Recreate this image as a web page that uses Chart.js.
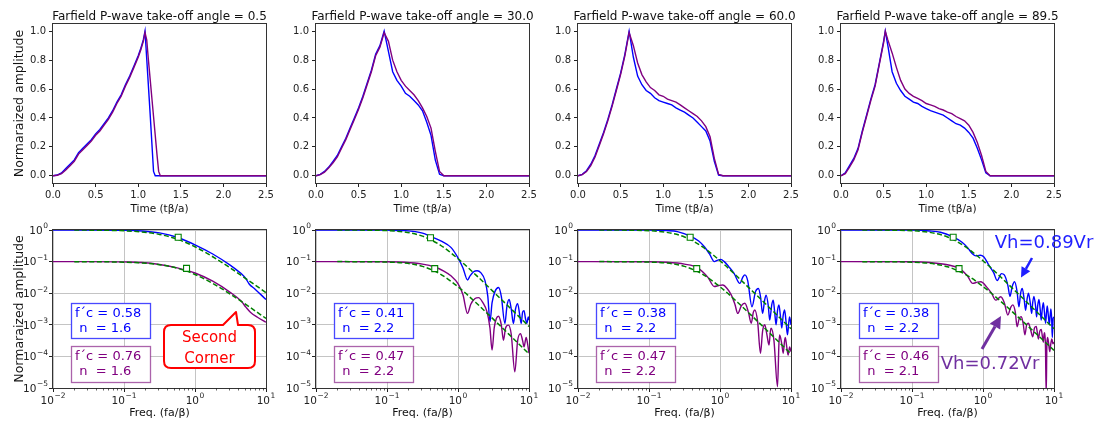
<!DOCTYPE html>
<html>
<head>
<meta charset="utf-8">
<script src="https://cdn.jsdelivr.net/npm/chart.js@4.4.1/dist/chart.umd.min.js"></script>
<style>
  html, body { margin: 0; padding: 0; background: #fff; }
  #fig { position: relative; width: 1102px; height: 423px; overflow: hidden; background: #fff; }
  #fig canvas { position: absolute; }
</style>
</head>
<body>
<div id="fig"></div>
<script>
// ==================== DATA ====================
const angles = ["0.5", "30.0", "60.0", "89.5"];
const timeTicks = [0, 0.5, 1.0, 1.5, 2.0, 2.5];
const ampTicks = [0, 0.2, 0.4, 0.6, 0.8, 1.0];
const freqDecades = [-2, -1, 0, 1];
const specDecades = [-5, -4, -3, -2, -1, 0];

// time series (t in tβ/a, normalized amplitude)
const time1 = [0,0.05,0.1,0.15,0.2,0.25,0.3,0.35,0.4,0.45,0.5,0.55,0.6,0.65,0.7,0.75,0.8,0.85,0.9,0.95,1.0,1.03,1.06,1.08,1.1,1.12,1.14,1.16,1.18,1.2,1.22,1.24,1.26,1.3,2.5];
const blue1 = [0,0.005,0.02,0.05,0.08,0.11,0.16,0.19,0.22,0.25,0.29,0.32,0.36,0.40,0.45,0.51,0.56,0.63,0.69,0.76,0.83,0.88,0.94,1.0,0.81,0.62,0.43,0.23,0.03,0,0,0,0,0,0];
const purple1 = [0,0.004,0.015,0.04,0.07,0.10,0.15,0.18,0.21,0.24,0.28,0.31,0.35,0.39,0.44,0.50,0.55,0.62,0.68,0.75,0.82,0.87,0.93,0.99,0.94,0.8,0.67,0.54,0.41,0.28,0.15,0.03,0,0,0];

const time2 = [0,0.05,0.1,0.15,0.2,0.25,0.3,0.35,0.4,0.45,0.5,0.55,0.6,0.65,0.7,0.75,0.8,0.85,0.9,0.95,1.0,1.05,1.1,1.15,1.2,1.25,1.3,1.35,1.4,1.45,1.5,2.5];
const blue2 = [0,0.01,0.03,0.06,0.1,0.14,0.2,0.26,0.33,0.4,0.47,0.55,0.64,0.73,0.84,0.9,1.0,0.86,0.72,0.66,0.62,0.57,0.55,0.52,0.49,0.45,0.37,0.28,0.11,0.01,0,0];
const purple2 = [0,0.008,0.025,0.055,0.09,0.13,0.19,0.25,0.32,0.39,0.46,0.54,0.63,0.72,0.83,0.89,0.99,0.93,0.8,0.72,0.66,0.62,0.59,0.56,0.52,0.47,0.41,0.33,0.17,0.03,0,0];

const time3 = [0,0.05,0.1,0.15,0.2,0.25,0.3,0.35,0.4,0.45,0.5,0.55,0.6,0.65,0.7,0.75,0.8,0.85,0.9,0.95,1.0,1.05,1.1,1.15,1.2,1.25,1.3,1.35,1.4,1.45,1.5,1.55,1.6,1.65,1.7,2.5];
const blue3 = [0,0.01,0.035,0.08,0.14,0.22,0.3,0.39,0.49,0.6,0.71,0.84,1.0,0.82,0.69,0.63,0.59,0.57,0.54,0.52,0.51,0.5,0.49,0.47,0.455,0.44,0.42,0.4,0.37,0.34,0.31,0.24,0.1,0.005,0,0];
const purple3 = [0,0.008,0.03,0.07,0.13,0.21,0.29,0.38,0.48,0.59,0.7,0.83,0.99,0.9,0.78,0.7,0.65,0.61,0.59,0.56,0.55,0.53,0.52,0.51,0.49,0.47,0.45,0.43,0.41,0.38,0.34,0.27,0.12,0.01,0,0];

const time4 = [0,0.05,0.1,0.15,0.2,0.25,0.3,0.35,0.4,0.45,0.5,0.52,0.55,0.6,0.65,0.7,0.75,0.8,0.85,0.9,0.95,1.0,1.05,1.1,1.15,1.2,1.25,1.3,1.35,1.4,1.45,1.5,1.55,1.6,1.65,1.7,1.75,2.5];
const blue4 = [0,0.02,0.07,0.12,0.19,0.31,0.42,0.53,0.63,0.78,0.93,1.0,0.9,0.72,0.64,0.59,0.55,0.53,0.51,0.5,0.48,0.465,0.45,0.44,0.43,0.42,0.4,0.38,0.36,0.35,0.33,0.3,0.26,0.19,0.11,0.02,0,0];
const purple4 = [0,0.015,0.06,0.11,0.18,0.3,0.41,0.52,0.62,0.77,0.92,1.0,0.94,0.85,0.75,0.66,0.6,0.57,0.55,0.535,0.52,0.5,0.49,0.48,0.465,0.455,0.44,0.43,0.41,0.395,0.38,0.35,0.3,0.23,0.14,0.03,0,0];

// spectra, stored as log10(freq) and log10(amplitude)
const blueLogF1 = [-2,-1.5,-1,-0.75,-0.5,-0.25,0,0.25,0.5,0.65,0.72,0.76,0.85,1];
const blueLogA1 = [0,-0.001,-0.01,-0.03,-0.09,-0.23,-0.47,-0.76,-1.12,-1.38,-1.55,-1.7,-1.88,-2.2];
const purpleLogF1 = [-2,-1.5,-1,-0.75,-0.5,-0.25,0,0.25,0.5,0.65,0.72,0.78,0.88,1];
const purpleLogA1 = [-1,-1.0,-1.01,-1.03,-1.09,-1.2,-1.36,-1.62,-1.98,-2.25,-2.45,-2.6,-2.76,-2.92];

const blueLogF2 = [-2,-1.5,-1,-0.75,-0.5,-0.39,-0.22,-0.1,0,0.07,0.134,0.17,0.22,0.27,0.32,0.38,0.42,0.45,0.48,0.52,0.57,0.61,0.66,0.69,0.72,0.75,0.78,0.81,0.84,0.87,0.89,0.91,0.93,0.95,0.97,0.99,1];
const blueLogA2 = [0,0,-0.005,-0.02,-0.1,-0.2,-0.37,-0.55,-0.88,-1.2,-1.58,-1.45,-1.32,-1.29,-1.35,-1.6,-2.1,-2.9,-2.3,-1.95,-1.82,-2.1,-2.96,-2.4,-2.2,-2.5,-2.96,-2.5,-2.33,-2.7,-2.96,-2.6,-2.55,-2.8,-2.95,-2.75,-2.85];
const purpleLogF2 = [-2,-1,-0.75,-0.5,-0.33,-0.2,-0.1,0,0.07,0.134,0.18,0.24,0.29,0.35,0.41,0.45,0.48,0.51,0.54,0.57,0.61,0.64,0.67,0.71,0.75,0.8,0.84,0.88,0.91,0.93,0.96,0.98,1];
const purpleLogA2 = [-1,-1.005,-1.02,-1.08,-1.17,-1.3,-1.45,-1.7,-2.05,-2.64,-2.35,-2.17,-2.14,-2.3,-2.6,-3.1,-3.8,-3.1,-2.8,-2.73,-3.0,-3.49,-3.1,-3.01,-3.3,-4.49,-3.5,-3.28,-3.5,-3.7,-3.4,-3.6,-3.9];

const blueLogF3 = [-2,-1,-0.75,-0.6,-0.41,-0.3,-0.22,-0.15,-0.08,-0.04,0.01,0.06,0.12,0.2,0.28,0.32,0.35,0.39,0.45,0.5,0.54,0.57,0.6,0.63,0.65,0.68,0.7,0.73,0.75,0.77,0.79,0.81,0.83,0.85,0.87,0.89,0.91,0.93,0.95,0.97,0.98,1];
const blueLogA3 = [0,-0.005,-0.02,-0.05,-0.2,-0.35,-0.53,-0.75,-1.0,-0.96,-0.93,-1.0,-1.15,-1.38,-1.69,-1.5,-1.42,-1.6,-2.43,-1.95,-1.85,-2.1,-2.64,-2.2,-2.06,-2.4,-2.85,-2.35,-2.22,-2.6,-3.0,-2.55,-2.37,-2.7,-3.1,-2.7,-2.53,-2.9,-3.32,-2.9,-2.75,-3.0];
const purpleLogF3 = [-2,-1,-0.75,-0.5,-0.32,-0.17,-0.08,-0.02,0.04,0.1,0.16,0.21,0.25,0.3,0.35,0.4,0.44,0.47,0.49,0.53,0.57,0.6,0.63,0.66,0.69,0.71,0.72,0.76,0.81,0.83,0.84,0.87,0.89,0.91,0.92,0.94,0.96,0.98,1];
const purpleLogA3 = [-1,-1.005,-1.02,-1.08,-1.19,-1.5,-1.79,-1.76,-1.74,-1.85,-2.06,-2.35,-2.64,-2.4,-2.32,-2.6,-2.95,-2.6,-2.53,-2.9,-3.9,-3.2,-3.0,-3.3,-3.64,-3.2,-3.11,-3.5,-4.96,-3.6,-3.32,-3.6,-3.9,-3.5,-3.4,-3.7,-3.96,-3.7,-3.85];

const blueLogF4 = [-2,-1,-0.75,-0.6,-0.43,-0.3,-0.22,-0.15,-0.1,-0.04,0.01,0.08,0.15,0.2,0.26,0.3,0.35,0.38,0.41,0.445,0.48,0.506,0.53,0.553,0.58,0.6,0.62,0.64,0.665,0.685,0.7,0.717,0.74,0.755,0.77,0.788,0.805,0.82,0.835,0.85,0.865,0.882,0.895,0.905,0.92,0.934,0.946,0.957,0.967,0.976,0.988,1];
const blueLogA4 = [0,-0.005,-0.03,-0.07,-0.21,-0.38,-0.55,-0.75,-0.82,-0.8,-0.85,-1.1,-1.35,-1.6,-1.38,-1.42,-1.75,-2.1,-1.8,-1.64,-1.95,-2.43,-2.0,-1.85,-2.2,-2.54,-2.2,-2.0,-2.3,-2.64,-2.3,-2.1,-2.4,-2.75,-2.4,-2.2,-2.5,-2.85,-2.5,-2.3,-2.6,-2.95,-2.6,-2.4,-2.7,-3.0,-2.7,-2.5,-2.8,-3.4,-2.8,-2.75];
const purpleLogF4 = [-2,-1,-0.75,-0.5,-0.33,-0.22,-0.145,-0.08,-0.03,0.05,0.12,0.18,0.25,0.3,0.35,0.39,0.42,0.455,0.48,0.51,0.54,0.565,0.59,0.615,0.64,0.67,0.7,0.725,0.75,0.765,0.78,0.8,0.82,0.835,0.85,0.86,0.87,0.88,0.89,0.9,0.91,0.925,0.94,0.955,0.97,0.985,1];
const purpleLogA4 = [-1,-1.005,-1.03,-1.1,-1.22,-1.45,-1.69,-1.65,-1.64,-1.8,-2.0,-2.22,-2.11,-2.3,-2.69,-2.45,-2.37,-2.6,-3.06,-2.8,-2.74,-2.95,-3.32,-3.0,-2.95,-3.15,-3.38,-3.1,-3.05,-3.25,-3.45,-3.2,-3.15,-3.35,-3.55,-3.3,-3.25,-3.7,-5.2,-3.6,-3.4,-3.6,-3.85,-3.6,-3.45,-3.6,-3.55];

// fitted model spectra (green dashed)
const fitLogF = [-1.7,-1.5,-1.25,-1,-0.75,-0.5,-0.25,0,0.25,0.5,0.75,1];
const fitUpper1 = [-0.002,-0.004,-0.010,-0.025,-0.061,-0.140,-0.291,-0.530,-0.846,-1.207,-1.590,-1.983];
const fitLower1 = [-1.001,-1.003,-1.007,-1.017,-1.041,-1.096,-1.209,-1.407,-1.690,-2.033,-2.408,-2.798];
const fitUpper2 = [-0.001,-0.002,-0.006,-0.019,-0.064,-0.195,-0.478,-0.909,-1.419,-1.957,-2.503,-3.052];
const fitLower2 = [-1.000,-1.001,-1.004,-1.014,-1.048,-1.152,-1.395,-1.797,-2.294,-2.828,-3.373,-3.922];
const fitUpper3 = [-0.001,-0.002,-0.006,-0.022,-0.075,-0.222,-0.527,-0.973,-1.489,-2.029,-2.576,-3.125];
const fitLower3 = [-1.000,-1.001,-1.004,-1.014,-1.048,-1.152,-1.395,-1.797,-2.294,-2.828,-3.373,-3.922];
const fitUpper4 = [-0.001,-0.002,-0.006,-0.022,-0.075,-0.222,-0.527,-0.973,-1.489,-2.029,-2.576,-3.125];
const fitLower4 = [-1.001,-1.002,-1.005,-1.017,-1.055,-1.163,-1.402,-1.786,-2.258,-2.766,-3.285,-3.809];

// corner frequencies (squares) and labels
const fcUpper = [0.58, 0.41, 0.38, 0.38];
const fcLower = [0.76, 0.47, 0.47, 0.46];
const nUpper = [1.6, 2.2, 2.2, 2.2];
const nLower = [1.6, 2.2, 2.2, 2.1];
const squareAmpUpper = [0.59, 0.57, 0.59, 0.59];
const squareAmpLower = [0.061, 0.060, 0.060, 0.060];

const times = [time1, time2, time3, time4];
const blueWaves = [blue1, blue2, blue3, blue4];
const purpleWaves = [purple1, purple2, purple3, purple4];
const blueSpec = [[blueLogF1, blueLogA1], [blueLogF2, blueLogA2], [blueLogF3, blueLogA3], [blueLogF4, blueLogA4]];
const purpleSpec = [[purpleLogF1, purpleLogA1], [purpleLogF2, purpleLogA2], [purpleLogF3, purpleLogA3], [purpleLogF4, purpleLogA4]];
const fitUpper = [fitUpper1, fitUpper2, fitUpper3, fitUpper4];
const fitLower = [fitLower1, fitLower2, fitLower3, fitLower4];

// ==================== STYLE ====================
const BLUE = "#0000ff", PURPLE = "#800080", GREEN = "#008000", INK = "#222";
const FONT = "'DejaVu Sans', sans-serif";
Chart.defaults.font.family = FONT;
Chart.defaults.color = INK;

const fig = document.getElementById("fig");
const plotLefts = [53, 316, 578, 841];
const PLOT_W = 213, AXIS_W = 53;

// ==================== UTILS ====================
const isDecade = (v) => Math.abs(Math.log10(v) - Math.round(Math.log10(v))) < 1e-6;

const addCanvas = (x, y, w, h) => {
  const c = document.createElement("canvas");
  c.width = w; c.height = h;
  c.style.cssText = `left:${x}px;top:${y}px;width:${w}px;height:${h}px`;
  fig.appendChild(c);
  return c;
};

const framePlugin = {
  id: "frame",
  afterDatasetsDraw(chart) {
    const { ctx, chartArea: a } = chart;
    ctx.save();
    ctx.strokeStyle = "#333";
    ctx.lineWidth = 1;
    ctx.strokeRect(a.left - 0.5, a.top - 0.5, a.right - a.left + 1, a.bottom - a.top + 1);
    ctx.restore();
  }
};

const titlePlugin = (text) => ({
  id: "panelTitle",
  afterDraw(chart) {
    const { ctx, chartArea: a } = chart;
    ctx.save();
    ctx.font = `12px ${FONT}`;
    ctx.fillStyle = "#111";
    ctx.textAlign = "center";
    ctx.textBaseline = "alphabetic";
    ctx.fillText(text, (a.left + a.right) / 2, a.top - 4);
    ctx.restore();
  }
});

// "10" + raised exponent, drawn as text at a given anchor
const drawPow10 = (ctx, exp, x, y, align) => {
  const base = "10", sup = exp < 0 ? "\u2212" + Math.abs(exp) : String(exp);
  ctx.font = `10.5px ${FONT}`;
  const wb = ctx.measureText(base).width;
  ctx.font = `7.5px ${FONT}`;
  const ws = ctx.measureText(sup).width;
  const total = wb + ws + 0.5;
  const x0 = align === "right" ? x - total : x - total / 2;
  ctx.textAlign = "left";
  ctx.textBaseline = "middle";
  ctx.font = `10.5px ${FONT}`;
  ctx.fillText(base, x0, y + 1);
  ctx.font = `7.5px ${FONT}`;
  ctx.fillText(sup, x0 + wb + 0.5, y - 3.5);
};

// log-axis labels and minor ticks (like matplotlib)
const logAxisPlugin = {
  id: "logAxis",
  afterDraw(chart) {
    const { ctx, chartArea: a, scales } = chart;
    ctx.save();
    ctx.strokeStyle = INK;
    ctx.lineWidth = 0.7;
    for (let d = -2; d < 1; d++) {
      for (let k = 2; k <= 9; k++) {
        const x = Math.round(scales.x.getPixelForValue(k * Math.pow(10, d))) + 0.5;
        ctx.beginPath(); ctx.moveTo(x, a.bottom); ctx.lineTo(x, a.bottom + 2.5); ctx.stroke();
      }
    }
    ctx.fillStyle = INK;
    freqDecades.forEach(e => drawPow10(ctx, e, scales.x.getPixelForValue(Math.pow(10, e)), a.bottom + 12, "center"));
    specDecades.forEach(e => drawPow10(ctx, e, a.left - 5, scales.y.getPixelForValue(Math.pow(10, e)), "right"));
    ctx.restore();
  }
};

const drawTextBox = (ctx, x, y, w, h, edge, color, line1, line2) => {
  ctx.fillStyle = "#fff";
  ctx.fillRect(x, y, w, h);
  ctx.strokeStyle = edge;
  ctx.lineWidth = 1.3;
  ctx.strokeRect(x + 0.5, y + 0.5, w, h);
  ctx.fillStyle = color;
  ctx.font = `13px ${FONT}`;
  ctx.textAlign = "left";
  ctx.textBaseline = "alphabetic";
  ctx.fillText(line1, x + 4, y + 14);
  ctx.fillText(line2, x + 4, y + 29);
};

const drawArrow = (ctx, x0, y0, x1, y1, color, width, headLen, headHalf) => {
  const ang = Math.atan2(y1 - y0, x1 - x0);
  const bx = x1 - headLen * Math.cos(ang), by = y1 - headLen * Math.sin(ang);
  ctx.strokeStyle = color; ctx.fillStyle = color; ctx.lineWidth = width;
  ctx.beginPath(); ctx.moveTo(x0, y0); ctx.lineTo(bx, by); ctx.stroke();
  ctx.beginPath();
  ctx.moveTo(x1, y1);
  ctx.lineTo(bx + headHalf * Math.sin(ang), by - headHalf * Math.cos(ang));
  ctx.lineTo(bx - headHalf * Math.sin(ang), by + headHalf * Math.cos(ang));
  ctx.closePath(); ctx.fill();
};

const annotationPlugin = (i) => ({
  id: "notes",
  afterDraw(chart) {
    const { ctx, chartArea: a } = chart;
    const L = a.left, T = a.top;
    ctx.save();
    drawTextBox(ctx, L + 18, T + 73, 79, 35, "rgba(40,40,255,0.85)", BLUE,
      `f\u00B4c = ${fcUpper[i].toFixed(2)}`, ` n  = ${nUpper[i].toFixed(1)}`);
    drawTextBox(ctx, L + 18, T + 116, 79, 36, "rgba(150,60,150,0.8)", PURPLE,
      `f\u00B4c = ${fcLower[i].toFixed(2)}`, ` n  = ${nLower[i].toFixed(1)}`);

    if (i === 0) {
      // "Second Corner" callout
      const x0 = L + 111, x1 = L + 202, y0 = T + 95, y1 = T + 138, r = 7;
      ctx.beginPath();
      ctx.moveTo(x0 + r, y0);
      ctx.lineTo(L + 170, y0);
      ctx.lineTo(L + 183, T + 82);
      ctx.lineTo(L + 185, y0);
      ctx.lineTo(x1 - r, y0);
      ctx.quadraticCurveTo(x1, y0, x1, y0 + r);
      ctx.lineTo(x1, y1 - r);
      ctx.quadraticCurveTo(x1, y1, x1 - r, y1);
      ctx.lineTo(x0 + r, y1);
      ctx.quadraticCurveTo(x0, y1, x0, y1 - r);
      ctx.lineTo(x0, y0 + r);
      ctx.quadraticCurveTo(x0, y0, x0 + r, y0);
      ctx.closePath();
      ctx.fillStyle = "#fff"; ctx.fill();
      ctx.strokeStyle = "#ff0000"; ctx.lineWidth = 2; ctx.lineJoin = "round"; ctx.stroke();
      ctx.fillStyle = "#ff0000";
      ctx.font = `15px ${FONT}`;
      ctx.textAlign = "center"; ctx.textBaseline = "middle";
      ctx.fillText("Second", L + 156.5, T + 108);
      ctx.fillText("Corner", L + 156.5, T + 129);
    }
    if (i === 3) {
      ctx.font = `18px ${FONT}`;
      ctx.textAlign = "center"; ctx.textBaseline = "middle";
      ctx.fillStyle = "#1f1fff";
      ctx.fillText("Vh=0.89Vr", L + 203, T + 13);
      drawArrow(ctx, L + 191, T + 28, L + 180, T + 47.5, "#1f1fff", 2.5, 10, 5);
      ctx.fillStyle = "#7030a0";
      ctx.fillText("Vh=0.72Vr", L + 149, T + 134);
      drawArrow(ctx, L + 141, T + 119, L + 160, T + 86, "#7030a0", 3, 12, 6);
    }
    ctx.restore();
  }
});

const commonOpts = (padR, padTop) => ({
  responsive: false,
  animation: false,
  devicePixelRatio: 1,
  events: [],
  layout: { padding: { top: padTop, right: padR, left: 0, bottom: 0 } },
  plugins: { legend: { display: false }, tooltip: { enabled: false } }
});

const yTitle = (i) => ({
  display: i === 0, text: "Normaraized amplitude", color: "#111",
  font: { size: 12.5 }, padding: { top: 12, bottom: 0 }
});

// ==================== WAVEFORM PANELS ====================
function waveChart(i) {
  const padR = i === 3 ? 1102 - (plotLefts[i] + PLOT_W) : 10;
  const c = addCanvas(plotLefts[i] - AXIS_W, 0, AXIS_W + PLOT_W + padR, 220);
  const pts = (vals) => times[i].map((t, k) => ({ x: t, y: vals[k] }));
  const opts = commonOpts(padR, 24);
  opts.scales = {
    x: {
      type: "linear", min: 0, max: 2.5,
      afterBuildTicks: (s) => { s.ticks = timeTicks.map(v => ({ value: v })); },
      afterFit: (s) => { s.height = 37; },
      ticks: { callback: (v) => Number(v).toFixed(1), font: { size: 10 }, maxRotation: 0, autoSkip: false, padding: 2 },
      grid: { drawOnChartArea: false, tickLength: 4, tickColor: INK },
      border: { display: false },
      title: { display: true, text: "Time (t\u03B2/a)", color: "#111", font: { size: 10.5 }, padding: { top: 0, bottom: 4 } }
    },
    y: {
      type: "linear", min: -0.05, max: 1.05,
      afterBuildTicks: (s) => { s.ticks = ampTicks.map(v => ({ value: v })); },
      afterFit: (s) => { s.width = AXIS_W; },
      ticks: { callback: (v) => Number(v).toFixed(1), font: { size: 10 }, padding: 3 },
      grid: { drawOnChartArea: false, tickLength: 4, tickColor: INK },
      border: { display: false },
      title: yTitle(i)
    }
  };
  new Chart(c, {
    type: "line",
    data: {
      datasets: [
        { data: pts(purpleWaves[i]), borderColor: PURPLE, borderWidth: 1.4, pointRadius: 0, tension: 0, order: 1 },
        { data: pts(blueWaves[i]), borderColor: BLUE, borderWidth: 1.4, pointRadius: 0, tension: 0, order: 2 }
      ]
    },
    options: opts,
    plugins: [framePlugin, titlePlugin(`Farfield P-wave take-off angle = ${angles[i]}`)]
  });
}

// ==================== SPECTRUM PANELS ====================
function specChart(i) {
  const padR = i === 3 ? 1102 - (plotLefts[i] + PLOT_W) : 10;
  const c = addCanvas(plotLefts[i] - AXIS_W, 210, AXIS_W + PLOT_W + padR, 213);
  const logPts = (lf, la) => lf.map((f, k) => ({ x: Math.pow(10, f), y: Math.pow(10, la[k]) }));
  const opts = commonOpts(padR, 20);
  opts.scales = {
    x: {
      type: "logarithmic", min: 0.01, max: 10,
      afterBuildTicks: (s) => { s.ticks = freqDecades.map(e => ({ value: Math.pow(10, e) })); },
      afterFit: (s) => { s.height = 35; },
      ticks: { display: false },
      grid: { color: (ctx) => (ctx.tick && isDecade(ctx.tick.value) ? "#c4c4c4" : "rgba(0,0,0,0)"), lineWidth: 1, tickLength: 4, tickColor: INK },
      border: { display: false },
      title: { display: true, text: "Freq. (fa/\u03B2)", color: "#111", font: { size: 11 }, padding: { top: 0, bottom: 3 } }
    },
    y: {
      type: "logarithmic", min: 1e-5, max: 1,
      afterBuildTicks: (s) => { s.ticks = specDecades.map(e => ({ value: Math.pow(10, e) })); },
      afterFit: (s) => { s.width = AXIS_W; },
      ticks: { display: false },
      grid: { color: "#c4c4c4", lineWidth: 1, tickLength: 4, tickColor: INK },
      border: { display: false },
      title: yTitle(i)
    }
  };
  const specLine = (pts, color, order) => ({
    data: pts, borderColor: color, borderWidth: 1.4, pointRadius: 0,
    cubicInterpolationMode: "monotone", order
  });
  const fitLine = (vals) => ({
    data: logPts(fitLogF, vals), borderColor: GREEN, borderWidth: 1.5, borderDash: [5, 2.5],
    pointRadius: 0, cubicInterpolationMode: "monotone", order: 1
  });
  new Chart(c, {
    type: "line",
    data: {
      datasets: [
        {
          data: [{ x: fcUpper[i], y: squareAmpUpper[i] }, { x: fcLower[i], y: squareAmpLower[i] }],
          showLine: false, pointStyle: "rect", pointRadius: 4.2, borderWidth: 1.1,
          pointBorderColor: GREEN, pointBackgroundColor: "#fff", borderColor: GREEN, backgroundColor: "#fff", order: 0
        },
        fitLine(fitUpper[i]),
        fitLine(fitLower[i]),
        specLine(logPts(purpleSpec[i][0], purpleSpec[i][1]), PURPLE, 2),
        specLine(logPts(blueSpec[i][0], blueSpec[i][1]), BLUE, 3)
      ]
    },
    options: opts,
    plugins: [framePlugin, logAxisPlugin, annotationPlugin(i)]
  });
}

// ==================== INIT ====================
[0, 1, 2, 3].forEach(i => { waveChart(i); specChart(i); });
</script>
</body>
</html>
